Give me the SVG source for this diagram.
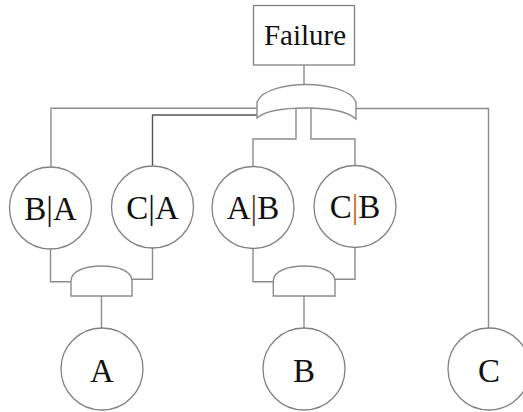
<svg xmlns="http://www.w3.org/2000/svg" width="523" height="412" viewBox="0 0 523 412">
<style>
.ln{fill:none;stroke:#8c8c8c;stroke-width:1.4}
.dk{fill:none;stroke:#555;stroke-width:1.4}
.nd{fill:#fff;stroke:#808080;stroke-width:1.3}
.gt{fill:#fff;stroke:#8c8c8c;stroke-width:1.4}
.tx{font-family:"Liberation Serif","Times New Roman",serif;fill:#111;text-anchor:middle}
.lb{font-size:33px}
</style>
<rect width="523" height="412" fill="#fff"/>
<g id="connectors">
<path class="ln" d="M304,65 V85"/>
<path class="ln" d="M257,108.3 H51 V167"/>
<path class="dk" d="M257,115 H152.5 V166"/>
<path class="ln" d="M356,108.5 H488.5 V328"/>
<path class="ln" d="M296,108 V139 H253 V166.5"/>
<path class="ln" d="M311,108 V139 H355 V165.5"/>
<path class="ln" d="M50.5,249 V281.7 H71"/>
<path class="ln" d="M152.5,248 V279.3 H132"/>
<path class="ln" d="M101.5,296 V328"/>
<path class="ln" d="M253,248.5 V281.7 H273.3"/>
<path class="ln" d="M355,247.5 V279.3 H335"/>
<path class="ln" d="M304,296 V328"/>
</g>
<g id="failure">
<rect class="nd" x="253.5" y="5.5" width="101" height="59.5"/>
<text class="tx" x="305" y="45" font-size="29">Failure</text>
</g>
<g id="gate-top">
<path class="gt" d="M257,102 C262,89 288,84.5 306,84.5 C324,84.5 351,89 356,102 L356,119 C346,110 326,108 306,108 C286,108 266,110 257,118 Z"/>
</g>
<g id="gate-a">
<path class="gt" d="M71,296 L71,281 C71,271 85,266 101.5,266 C118,266 132,271 132,281 L132,296 Z"/>
</g>
<g id="gate-b">
<path class="gt" d="M273.3,296 L273.3,281 C273.3,271 288,266 304.2,266 C320.5,266 335,271 335,281 L335,296 Z"/>
</g>
<g id="node-ba">
<circle class="nd" cx="50.5" cy="208" r="41"/>
<text class="tx lb" x="50.5" y="219.5">B|A</text>
</g>
<g id="node-ca">
<circle class="nd" cx="152.5" cy="207" r="41"/>
<text class="tx lb" x="152.5" y="218.5">C|A</text>
</g>
<g id="node-ab">
<circle class="nd" cx="253" cy="207.5" r="41"/>
<text class="tx lb" x="253" y="219">A<tspan fill="#5a3a20">|</tspan>B</text>
</g>
<g id="node-cb">
<circle class="nd" cx="355" cy="206.5" r="41"/>
<text class="tx lb" x="355" y="218">C<tspan fill="#c8641a">|</tspan>B</text>
</g>
<g id="node-a">
<circle class="nd" cx="102" cy="369" r="41"/>
<text class="tx lb" x="102" y="381.5">A</text>
</g>
<g id="node-b">
<circle class="nd" cx="304" cy="369" r="41"/>
<text class="tx lb" x="304" y="381.5">B</text>
</g>
<g id="node-c">
<circle class="nd" cx="489" cy="369" r="41"/>
<text class="tx lb" x="489" y="381.5">C</text>
</g>
</svg>
